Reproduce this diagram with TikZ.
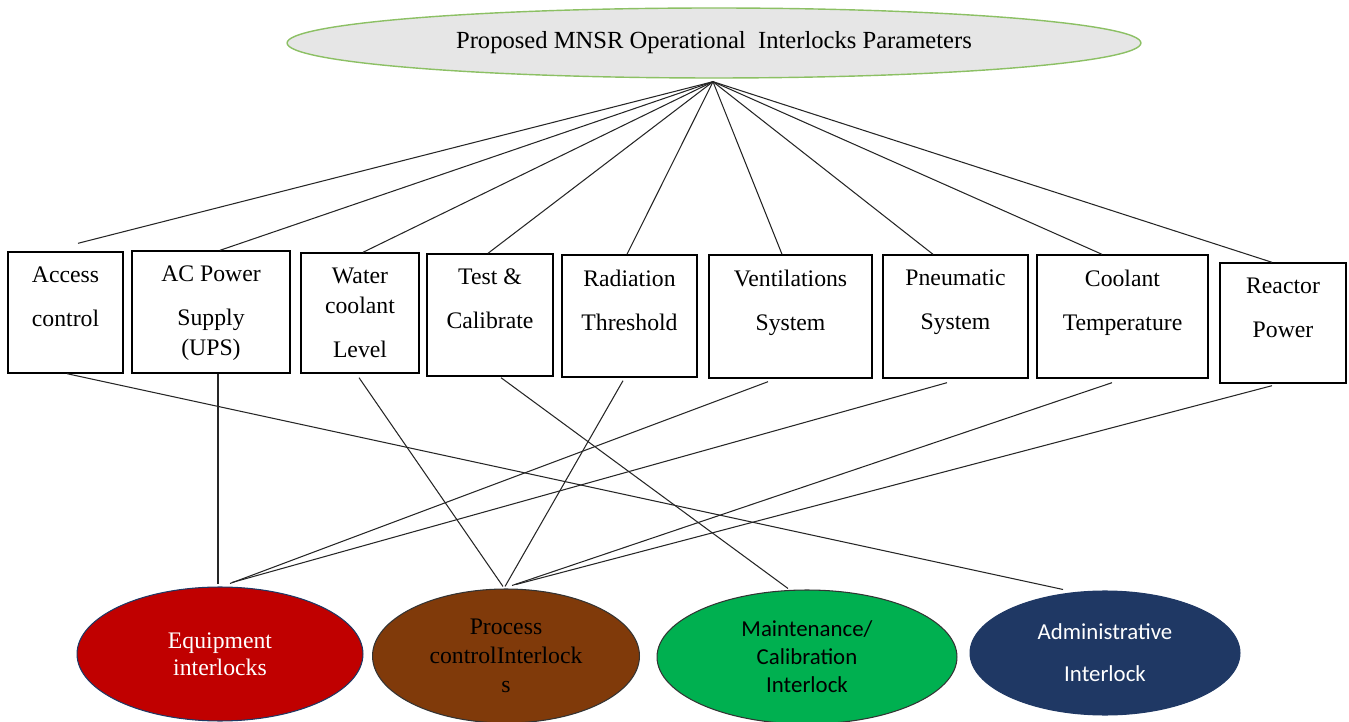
\documentclass[tikz,border=0pt]{standalone}
\usepackage{fontspec}
\setmainfont{Liberation Serif}
\newfontfamily\calibri{Carlito}
\usepackage{tikz}
\usetikzlibrary{shapes.geometric,calc}
\definecolor{topgray}{RGB}{230,230,230}
\definecolor{topgreen}{RGB}{140,192,100}
\definecolor{eqred}{RGB}{192,0,0}
\definecolor{procbrown}{RGB}{128,58,10}
\definecolor{maintgreen}{RGB}{0,176,80}
\definecolor{admblue}{RGB}{31,56,100}
\tikzstyle{param} = [draw, line width=0.8pt, inner sep=0pt]
\tikzstyle{ptext} = [anchor=north, align=center, yshift=-5.5pt, font=\fontsize{13.5}{17}\selectfont]
\tikzstyle{group} = [ellipse, draw, line width=0.6pt, inner sep=0pt, align=center, minimum height=2.68cm]
\tikzstyle{link} = [line width=0.6pt, black!85]

\begin{document}
\begin{tikzpicture}[x=0.02cm,y=-0.02cm]
  \useasboundingbox (0,0) rectangle (1349,722);
  % top
  \node[ellipse, draw=topgreen, fill=topgray, line width=0.8pt, minimum width=17.08cm, minimum height=1.4cm,
        font=\fontsize{14}{17}\selectfont] (top) at (714,43) {Proposed MNSR Operational~ Interlocks Parameters};
  \coordinate (apex) at ($(top.south)+(-1,3)$);
  % parameter boxes
  \node[param, minimum width=2.30cm, minimum height=2.42cm] (acc) at (65.5,312.5) {};
  \node[param, minimum width=3.16cm, minimum height=2.44cm] (ups) at (211,312) {};
  \node[param, minimum width=2.36cm, minimum height=2.40cm] (wcl) at (360,313) {};
  \node[param, minimum width=2.52cm, minimum height=2.44cm] (tst) at (490,315) {};
  \node[param, minimum width=2.70cm, minimum height=2.44cm] (rad) at (629.5,316) {};
  \node[param, minimum width=3.26cm, minimum height=2.46cm] (ven) at (790.5,316.5) {};
  \node[param, minimum width=2.90cm, minimum height=2.46cm] (pne) at (955.5,316.5) {};
  \node[param, minimum width=3.42cm, minimum height=2.46cm] (cot) at (1122.5,316.5) {};
  \node[param, minimum width=2.52cm, minimum height=2.40cm] (rep) at (1283,323) {};
  \node[ptext] (acct) at (acc.north) {Access\\[8pt] control};
  \node[ptext] (upst) at (ups.north) {AC Power\\[8pt] Supply\\ (UPS)};
  \node[ptext] (wclt) at (wcl.north) {Water\\ coolant\\[8pt] Level};
  \node[ptext] (tstt) at (tst.north) {Test \&\\[8pt] Calibrate};
  \node[ptext] (radt) at (rad.north) {Radiation\\[8pt] Threshold};
  \node[ptext] (vent) at (ven.north) {Ventilations\\[8pt] System};
  \node[ptext] (pnet) at (pne.north) {Pneumatic\\[8pt] System};
  \node[ptext] (cott) at (cot.north) {Coolant\\[8pt] Temperature};
  \node[ptext] (rept) at (rep.north) {Reactor\\[8pt] Power};
  % interlock groups
  \node[group, fill=eqred, draw=admblue, text=white, minimum width=5.72cm,
        font=\fontsize{13.5}{15.5}\selectfont] (eqi) at (220,654) {Equipment\\ interlocks};
  \node[group, fill=procbrown, draw=black!80, minimum width=5.34cm,
        font=\fontsize{13.5}{16.5}\selectfont] (prc) at (506,656) {Process\\ controlInterlock\\ s};
  \node[group, fill=maintgreen, draw=black!80, minimum width=6.00cm,
        font=\calibri\fontsize{13}{16}\selectfont] (mnt) at (807,657) {Maintenance/\\ Calibration\\ Interlock};
  \node[group, fill=admblue, draw=admblue, text=white, minimum width=5.40cm, minimum height=2.48cm,
        font=\calibri\fontsize{13}{16}\selectfont] (adm) at (1105,653) {Administrative\\[8pt] Interlock};
  % top links
  \draw[link] (apex) -- ($(acc.north)+(12.5,-8)$);
  \draw[link] (apex) -- ($(ups.north)+(9,0)$);
  \draw[link] (apex) -- ($(wcl.north)+(3,0)$);
  \draw[link] (apex) -- ($(tst.north)+(-2,0)$);
  \draw[link] (apex) -- ($(rad.north)+(-2.5,0)$);
  \draw[link] (apex) -- ($(ven.north)+(-8.5,0)$);
  \draw[link] (apex) -- ($(pne.north)+(-22.5,0)$);
  \draw[link] (apex) -- ($(cot.north)+(-20.5,0)$);
  \draw[link] (apex) -- ($(rep.north)+(-11,0)$);
  % bottom links
  \draw[link] ($(acc.south)+(1.5,0)$) -- ($(adm.north)+(-42,-1)$);
  \draw[link] ($(ups.south)+(7,0)$) -- ($(eqi.north)+(-2,-2)$);
  \draw[link] ($(wcl.south)+(-1,4)$) -- ($(prc.north)+(-3,-2)$);
  \draw[link] ($(tst.south)+(11,1)$) -- ($(mnt.north)+(-19,-1)$);
  \draw[link] ($(rad.south)+(-6.5,3)$) -- ($(prc.north)+(-1,-2)$);
  \draw[link] ($(ven.south)+(-22.5,3)$) -- ($(eqi.north)+(10,-3)$);
  \draw[link] ($(pne.south)+(-8.5,4)$) -- ($(eqi.north)+(12,-4)$);
  \draw[link] ($(cot.south)+(-10.5,4)$) -- ($(prc.north)+(6,-3)$);
  \draw[link] ($(rep.south)+(-11,2)$) -- ($(prc.north)+(10,-4)$);
\end{tikzpicture}
\end{document}
